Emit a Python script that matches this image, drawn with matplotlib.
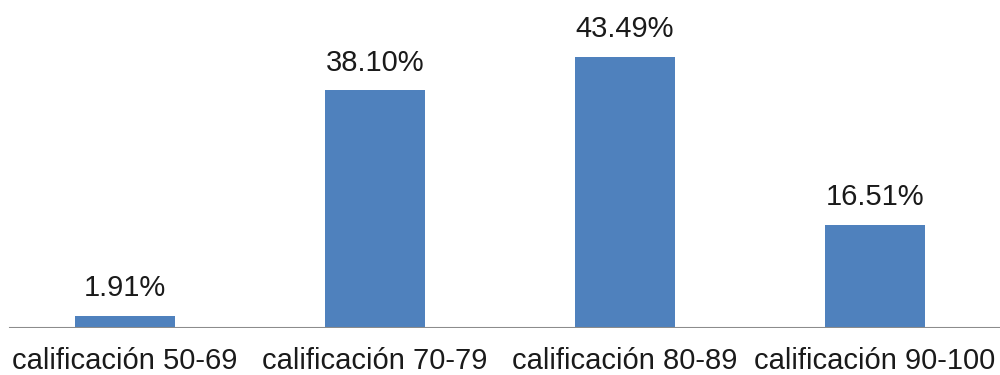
import matplotlib.pyplot as plt

categorias = ['calificación 50-69', 'calificación 70-79', 'calificación 80-89', 'calificación 90-100']
porcentajes = [1.91, 38.10, 43.49, 16.51]
etiquetas = ['1.91%', '38.10%', '43.49%', '16.51%']

plt.rcParams['font.family'] = ['Liberation Sans', 'DejaVu Sans']

fig = plt.figure(figsize=(10, 3.75), dpi=100)
ax = fig.add_axes([0, 0.1253, 1, 0.8747])

x = range(len(categorias))
barras = ax.bar(x, porcentajes, width=0.4, color='#4F81BD', zorder=2)

# etiquetas de valor encima de cada barra
for b, txt in zip(barras, etiquetas):
    ax.annotate(txt, (b.get_x() + b.get_width() / 2, b.get_height()),
                xytext=(0, 10), textcoords='offset points',
                ha='center', va='bottom', fontsize=21, color='#1a1a1a')

ax.set_xlim(-0.5, 3.5)
ax.set_ylim(0, 52.6)
ax.set_xticks(list(x))
ax.set_xticklabels(categorias, fontsize=21, color='#1a1a1a')
ax.tick_params(axis='x', length=0, pad=14)
ax.set_yticks([])

for s in ['top', 'right', 'left', 'bottom']:
    ax.spines[s].set_visible(False)
ax.axhline(0, xmin=0.01, xmax=1, color='#8c8c8c', linewidth=1.5, zorder=3)

fig.savefig('out.png', dpi=100)
